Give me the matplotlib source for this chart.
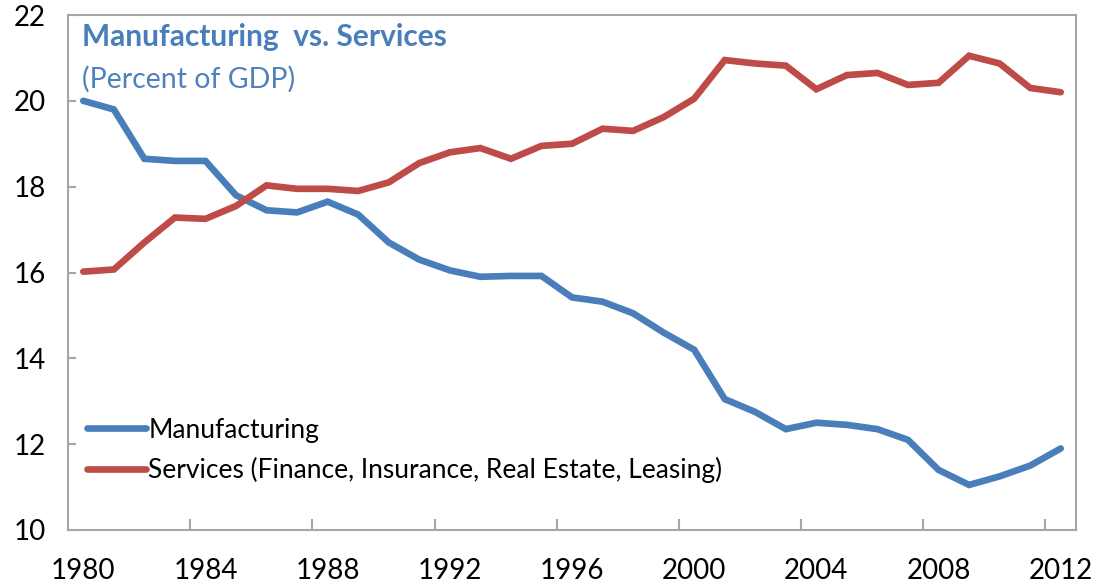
import numpy as np
import matplotlib.pyplot as plt

plt.rcParams['font.family'] = ['Lato', 'DejaVu Sans']

years = list(range(1980, 2013))
manufacturing = [20.0, 19.8, 18.65, 18.6, 18.6, 17.8, 17.45, 17.4, 17.65, 17.35,
                 16.7, 16.3, 16.05, 15.9, 15.92, 15.92, 15.42, 15.32, 15.05, 14.6,
                 14.2, 13.05, 12.75, 12.35, 12.5, 12.45, 12.35, 12.1, 11.4, 11.05,
                 11.25, 11.5, 11.9]
services = [16.02, 16.07, 16.7, 17.28, 17.25, 17.55, 18.03, 17.95, 17.95, 17.9,
            18.1, 18.55, 18.8, 18.9, 18.65, 18.95, 19.0, 19.35, 19.3, 19.62,
            20.05, 20.95, 20.87, 20.82, 20.27, 20.6, 20.65, 20.37, 20.42, 21.05,
            20.87, 20.3, 20.2]
year_labels = list(range(1980, 2013, 4))
y_ticks = [10, 12, 14, 16, 18, 20, 22]

blue = '#4A7EBB'
red = '#BE4B48'
grey = '#A6A6A6'

fig = plt.figure(figsize=(11.02, 5.85), dpi=100)
ax = fig.add_axes([68/1102, 55/585, 1008/1102, 515/585])

ax.plot(years, manufacturing, color=blue, lw=4.8, solid_capstyle='round',
        solid_joinstyle='miter', label='Manufacturing')
ax.plot(years, services, color=red, lw=4.8, solid_capstyle='round',
        solid_joinstyle='miter', label='Services (Finance, Insurance, Real Estate, Leasing)')

ax.set_xlim(1979.5, 2012.5)
ax.set_ylim(10, 22)
ax.set_yticks(y_ticks)
ax.set_xticks(year_labels)
ax.set_xticks([1979.5 + 4*k for k in range(1, 9)], minor=True)
ax.tick_params(axis='x', which='major', length=0, labelsize=20, pad=20)
ax.tick_params(axis='x', which='minor', direction='in', length=8, width=1.5, color=grey)
ax.tick_params(axis='y', direction='in', length=6, width=1.5, color=grey,
               labelsize=20, pad=16)

for sp in ax.spines.values():
    sp.set_color(grey)
    sp.set_linewidth(1.5)

ax.text(0.014, 0.985, 'Manufacturing  vs. Services', transform=ax.transAxes,
        fontsize=21.5, fontweight='bold', color=blue, va='top', ha='left')
ax.text(0.014, 0.902, '(Percent of GDP)', transform=ax.transAxes,
        fontsize=20.5, color='#4F81BD', va='top', ha='left')

ax.legend(loc='lower left', bbox_to_anchor=(0.001, 0.055), frameon=False,
          fontsize=19, handlelength=2.2, handletextpad=0.1, labelspacing=0.55,
          borderaxespad=0.3)

fig.savefig('out.png', dpi=100)
